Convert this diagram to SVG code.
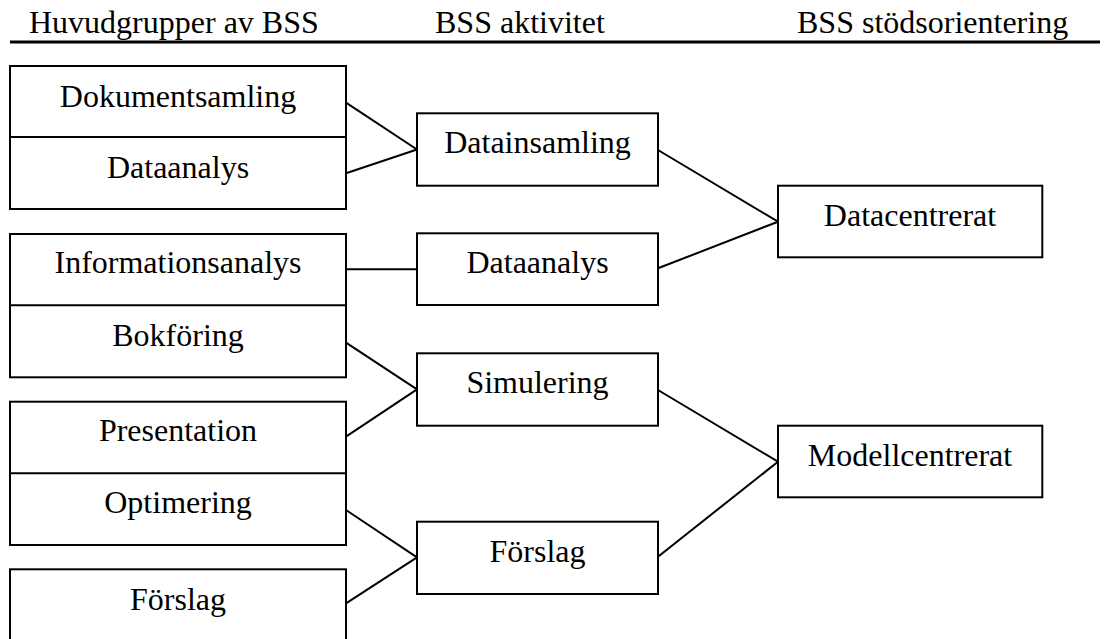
<svg xmlns="http://www.w3.org/2000/svg" width="1104" height="639" viewBox="0 0 1104 639">
  <style>
    .box { fill: #ffffff; stroke: #000000; stroke-width: 2; }
    .div { stroke: #000000; stroke-width: 2; }
    .lbl { font-family: "Liberation Serif", "Times New Roman", serif; font-size: 32px; fill: #000000; }
    .mid { text-anchor: middle; }
    .conn line { stroke: #000000; stroke-width: 2; stroke-linecap: round; }
  </style>
  <rect width="1104" height="639" fill="#ffffff"/>

  <!-- column headings -->
  <g id="headings">
    <text class="lbl" x="29" y="33">Huvudgrupper av BSS</text>
    <text class="lbl" x="435" y="33">BSS aktivitet</text>
    <text class="lbl" x="797" y="33">BSS stödsorientering</text>
    <line x1="10" y1="42" x2="1100" y2="42" stroke="#000000" stroke-width="3"/>
  </g>

  <!-- connectors -->
  <g id="connectors" class="conn">
    <line x1="346" y1="102.7" x2="417" y2="149.5"/>
    <line x1="346" y1="173.3" x2="417" y2="149.5"/>
    <line x1="346" y1="269.3" x2="417" y2="269.3"/>
    <line x1="346" y1="342.7" x2="417" y2="389.3"/>
    <line x1="346" y1="436.7" x2="417" y2="389.3"/>
    <line x1="346" y1="510" x2="417" y2="557.3"/>
    <line x1="346" y1="603.3" x2="417" y2="557.3"/>
    <line x1="658" y1="150" x2="778" y2="221.7"/>
    <line x1="658" y1="268.3" x2="778" y2="221.7"/>
    <line x1="658" y1="390" x2="778" y2="461.7"/>
    <line x1="658" y1="556.7" x2="778" y2="461.7"/>
  </g>

  <!-- main groups -->
  <g id="group-data">
    <rect class="box" x="10" y="66" width="336" height="143"/>
    <line class="div" x1="10" y1="137" x2="346" y2="137"/>
    <g id="n-dokumentsamling"><text class="lbl mid" x="178" y="106.7">Dokumentsamling</text></g>
    <g id="n-dataanalys-1"><text class="lbl mid" x="178" y="177.7">Dataanalys</text></g>
  </g>
  <g id="group-info">
    <rect class="box" x="10" y="234" width="336" height="143.3"/>
    <line class="div" x1="10" y1="305.3" x2="346" y2="305.3"/>
    <g id="n-informationsanalys"><text class="lbl mid" x="178" y="273.3">Informationsanalys</text></g>
    <g id="n-bokforing"><text class="lbl mid" x="178" y="346">Bokföring</text></g>
  </g>
  <g id="group-model">
    <rect class="box" x="10" y="401.7" width="336" height="143.3"/>
    <line class="div" x1="10" y1="473.3" x2="346" y2="473.3"/>
    <g id="n-presentation"><text class="lbl mid" x="178" y="441">Presentation</text></g>
    <g id="n-optimering"><text class="lbl mid" x="178" y="513.3">Optimering</text></g>
  </g>
  <g id="n-forslag-1">
    <rect class="box" x="10" y="569.3" width="336" height="100"/>
    <text class="lbl mid" x="178" y="610">Förslag</text>
  </g>

  <!-- activities -->
  <g id="n-datainsamling">
    <rect class="box" x="417" y="113.3" width="241" height="72.4"/>
    <text class="lbl mid" x="537.5" y="153.3">Datainsamling</text>
  </g>
  <g id="n-dataanalys-2">
    <rect class="box" x="417" y="233.3" width="241" height="71.7"/>
    <text class="lbl mid" x="537.5" y="273.3">Dataanalys</text>
  </g>
  <g id="n-simulering">
    <rect class="box" x="417" y="353.3" width="241" height="72.4"/>
    <text class="lbl mid" x="537.5" y="393.3">Simulering</text>
  </g>
  <g id="n-forslag-2">
    <rect class="box" x="417" y="521.7" width="241" height="72.3"/>
    <text class="lbl mid" x="537.5" y="561.7">Förslag</text>
  </g>

  <!-- support orientation -->
  <g id="n-datacentrerat">
    <rect class="box" x="778" y="185.7" width="264.3" height="71.6"/>
    <text class="lbl mid" x="910" y="226">Datacentrerat</text>
  </g>
  <g id="n-modellcentrerat">
    <rect class="box" x="778" y="425.7" width="264.3" height="71.6"/>
    <text class="lbl mid" x="910" y="466">Modellcentrerat</text>
  </g>
</svg>
